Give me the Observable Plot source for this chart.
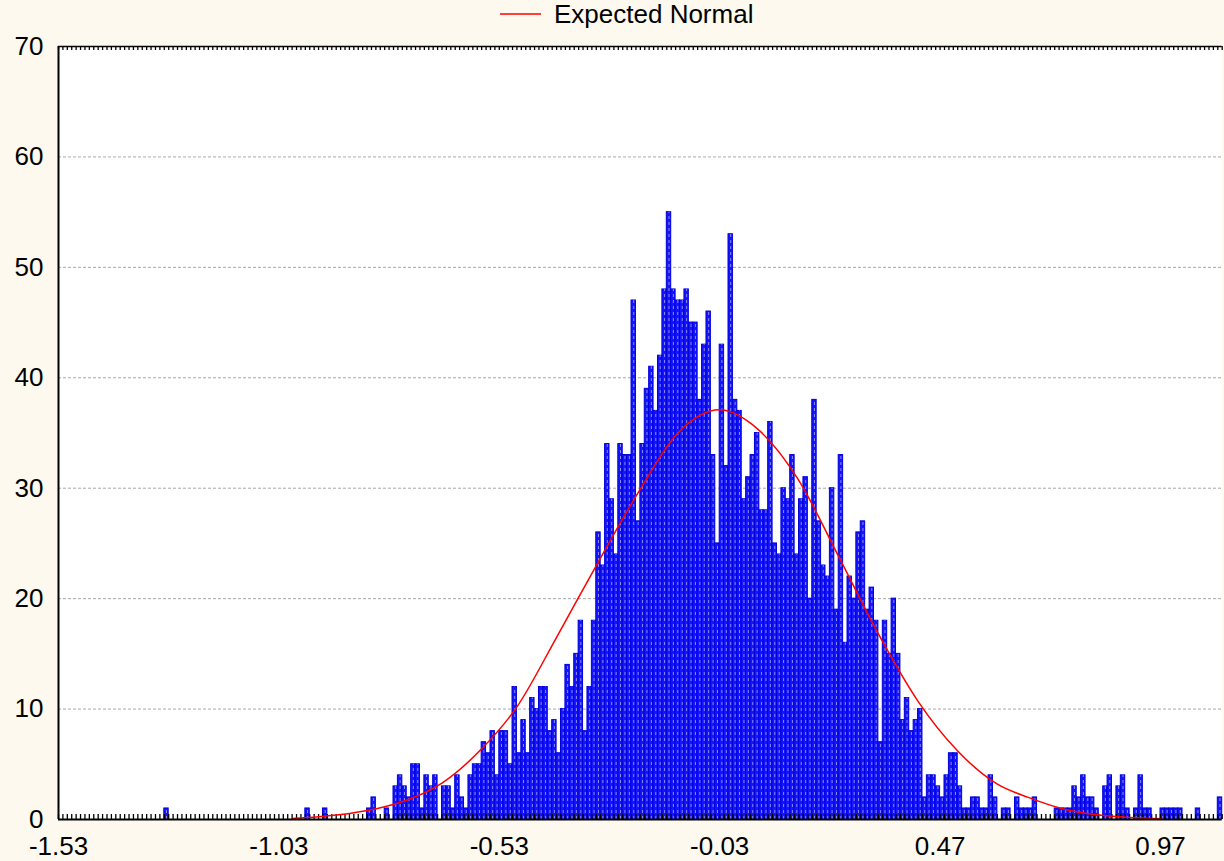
<!DOCTYPE html>
<html><head><meta charset="utf-8">
<script src="https://cdn.jsdelivr.net/npm/d3@7"></script>
<script src="https://cdn.jsdelivr.net/npm/@observablehq/plot@0.6"></script>
<style>
html,body{margin:0;padding:0;background:#fdf9ef;}
#wrap{position:relative;width:1224px;height:861px;overflow:hidden;}
#legend{position:absolute;left:0;top:0;width:1224px;height:40px;pointer-events:none;}
#legend text{font-family:'Liberation Sans',Arial,sans-serif;font-size:26px;fill:#000;}
</style></head><body>
<div id="wrap"><div id="chart"></div>
<div id="legend"><svg width="1224" height="40"><line x1="500" x2="541" y1="14" y2="14" stroke="#ff0000" stroke-width="1.5"/><text x="554" y="23">Expected Normal</text></svg></div>
</div>
<script>
const binStart = -1.53;
const binWidth = 0.01;
const counts = [
  0,0,0,0,0,0,0,0,0,0, 0,0,0,0,0,0,0,0,0,0,
  0,0,0,0,1,0,0,0,0,0, 0,0,0,0,0,0,0,0,0,0,
  0,0,0,0,0,0,0,0,0,0, 0,0,0,0,0,0,1,0,0,0,
  1,0,0,0,0,0,0,0,0,0, 1,2,0,0,1,0,3,4,3,2,
  5,5,1,4,3,4,0,3,3,1, 4,2,1,4,5,5,7,6,8,4,
  8,8,5,12,6,9,6,11,10,12, 12,8,9,6,10,14,12,15,18,8,
  12,18,26,23,34,29,24,34,33,33, 47,27,34,39,41,37,42,48,55,48,
  47,47,48,45,45,38,43,46,33,25, 43,32,53,38,37,29,31,33,35,28,
  28,36,25,24,30,29,33,24,29,31, 20,38,27,23,22,30,19,33,16,22,
  20,26,27,19,21,18,7,18,15,20, 15,9,11,8,9,10,2,4,4,3,
  2,4,6,6,3,1,1,2,2,1, 1,4,2,0,1,1,0,2,1,1,
  1,2,0,0,0,0,1,1,1,1, 3,2,4,2,2,1,0,3,4,0,
  3,4,1,0,1,4,1,1,0,0, 1,1,1,1,1,0,0,0,1,0,
  0,0,0,2
];
const xTicks = [-1.53, -1.03, -0.53, -0.03, 0.47, 0.97];
const yTicks = [0, 10, 20, 30, 40, 50, 60, 70];
// Expected Normal curve
const curveX = [-1.00, -0.94, -0.87, -0.79, -0.73, -0.66, -0.57, -0.49, -0.40, -0.31, -0.215, -0.125, -0.03, 0.055, 0.148, 0.24, 0.33, 0.42, 0.51, 0.60, 0.67, 0.75, 0.82, 0.90, 0.97];
const curveY = [0.1, 0.26, 0.55, 1.15, 1.9, 3.3, 6.4, 10.2, 16.5, 23.0, 29.6, 35.0, 37.1, 35.4, 30.8, 23.8, 16.8, 10.7, 6.2, 3.2, 2.0, 0.95, 0.45, 0.17, 0.06];

const bins = counts.map((c, i) => ({x1: binStart + i * binWidth, x2: binStart + (i + 1) * binWidth, count: c})).filter(d => d.count > 0);
const binEdges = d3.range(counts.length + 1).map(i => binStart + i * binWidth);
const curve = curveX.map((x, i) => ({x, y: curveY[i]}));

const W = 1224, H = 861, mT = 46, mB = 42, mL = 58, mR = 2.3;
const frameH = H - mT - mB;

const chart = Plot.plot({
  width: W, height: H,
  marginTop: mT, marginBottom: mB, marginLeft: mL, marginRight: mR,
  style: {background: "transparent", fontFamily: "'Liberation Sans', Arial, sans-serif", fontSize: "26px", color: "#000"},
  x: {domain: [binStart, binStart + counts.length * binWidth], label: null},
  y: {domain: [0, 70], label: null},
  marks: [
    Plot.frame({fill: "white", stroke: null}),
    Plot.gridY(yTicks.filter(v => v > 0 && v < 70), {stroke: "#a8a8a8", strokeOpacity: 1, strokeDasharray: "3,2"}),
    Plot.rectY(bins, {x1: "x1", x2: "x2", y: "count", fill: "#1414ff", stroke: "#0000d8", strokeWidth: 1, inset: 0}),
    Plot.ruleX(bins, {x: d => (d.x1 + d.x2) / 2, y1: 0, y2: "count", stroke: "#8a8aff", strokeDasharray: "3,3", strokeWidth: 1}),
    Plot.tickX(binEdges, {x: d => d, insetTop: frameH - 5, stroke: "#000", strokeWidth: 1.3}),
    Plot.tickX(binEdges, {x: d => d, insetBottom: frameH - 4, stroke: "#000", strokeWidth: 1.3}),
    Plot.line(curve, {x: "x", y: "y", stroke: "#ff0000", strokeWidth: 1.5, curve: "monotone-x"}),
    Plot.ruleX([binStart], {stroke: "#000", strokeWidth: 2}),
    Plot.ruleY([0], {stroke: "#000", strokeWidth: 2}),
    Plot.ruleY([70], {stroke: "#000", strokeWidth: 1.5}),
    Plot.axisY(yTicks, {tickSize: 0, tickPadding: 15, fontSize: 26}),
    Plot.axisX(xTicks, {tickSize: 0, tickPadding: 17, tickFormat: d => d.toFixed(2), fontSize: 26})
  ]
});
document.getElementById("chart").appendChild(chart);
</script>
</body></html>
